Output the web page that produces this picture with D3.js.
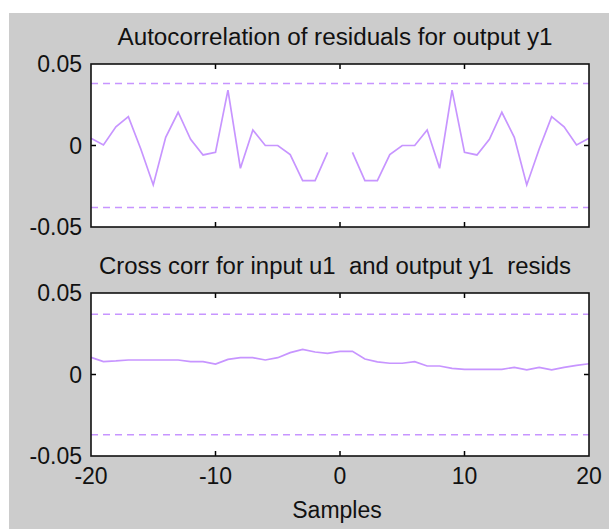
<!DOCTYPE html>
<html>
<head>
<meta charset="utf-8">
<script src="https://cdn.jsdelivr.net/npm/d3@7"></script>
<style>
  html, body { margin: 0; padding: 0; background: #ffffff; }
  svg { display: block; }
  text { font-family: "Liberation Sans", Arial, sans-serif; fill: #111; }
</style>
</head>
<body>
<svg id="chart" width="609" height="529"></svg>
<script>
// Residual correlation test: lags from -20 to 20 samples
const lags = d3.range(-20, 21);

// Autocorrelation of residuals for y1 (lag 0 omitted)
const autoCorr = [
  0.0044, 0.0003, 0.0115, 0.0177, -0.0021, -0.0242, 0.0050, 0.0204, 0.0038, -0.0058,
  -0.0042, 0.0340, -0.0140, 0.0095, 0.0000, 0.0000, -0.0056, -0.0216, -0.0216, -0.0042,
  null,
  -0.0042, -0.0216, -0.0216, -0.0056, 0.0000, 0.0000, 0.0095, -0.0140, 0.0340, -0.0042,
  -0.0058, 0.0038, 0.0204, 0.0050, -0.0242, -0.0021, 0.0177, 0.0115, 0.0003, 0.0044
];
const autoConf = 0.038;

// Cross correlation between input u1 and output y1 residuals
const crossCorr = [
  0.0105, 0.0079, 0.0083, 0.0089, 0.0089, 0.0089, 0.0089, 0.0089, 0.0079, 0.0079,
  0.0064, 0.0093, 0.0103, 0.0103, 0.0089, 0.0103, 0.0134, 0.0154, 0.0138, 0.0130,
  0.0142,
  0.0142, 0.0095, 0.0077, 0.0069, 0.0069, 0.0079, 0.0052, 0.0052, 0.0038, 0.0032,
  0.0032, 0.0032, 0.0032, 0.0044, 0.0028, 0.0044, 0.0028, 0.0044, 0.0056, 0.0066
];
const crossConf = 0.037;

const xTicks = [-20, -10, 0, 10, 20];
const yTicks = [-0.05, 0, 0.05];
const yTickLabels = ["-0.05", "0", "0.05"];

const panels = [
  { title: "Autocorrelation of residuals for output y1", values: autoCorr, conf: autoConf, top: 64, titleW: 435, xLabels: false },
  { title: "Cross corr for input u1  and output y1  resids", values: crossCorr, conf: crossConf, top: 293, titleW: 472, xLabels: true }
];

const svg = d3.select("#chart");
const left = 91, right = 589, plotH = 163;
const lineColor = "#c795ff";
const fontSize = 23;

// figure background
svg.append("rect").attr("x", 9).attr("y", 13).attr("width", 600).attr("height", 516).attr("fill", "#cccccc");

const x = d3.scaleLinear().domain([-20, 20]).range([left, right]);

panels.forEach(p => {
  const y = d3.scaleLinear().domain([-0.05, 0.05]).range([p.top + plotH, p.top]);
  const g = svg.append("g");

  g.append("rect")
    .attr("x", left).attr("y", p.top)
    .attr("width", right - left).attr("height", plotH)
    .attr("fill", "#ffffff");

  // confidence bounds
  [p.conf, -p.conf].forEach(c => {
    g.append("line")
      .attr("x1", left).attr("x2", right)
      .attr("y1", y(c)).attr("y2", y(c))
      .attr("stroke", lineColor).attr("stroke-width", 1.6)
      .attr("stroke-dasharray", "7,5");
  });

  const line = d3.line()
    .defined(d => d.v !== null)
    .x(d => x(d.lag))
    .y(d => y(d.v));
  g.append("path")
    .datum(lags.map((lag, i) => ({ lag, v: p.values[i] })))
    .attr("d", line)
    .attr("fill", "none")
    .attr("stroke", lineColor)
    .attr("stroke-width", 1.7);

  // inward ticks
  const tl = 5;
  const inner = xTicks.slice(1, -1);
  inner.forEach(t => {
    g.append("line").attr("x1", x(t)).attr("x2", x(t)).attr("y1", p.top).attr("y2", p.top + tl).attr("stroke", "#000").attr("stroke-width", 1.5);
    g.append("line").attr("x1", x(t)).attr("x2", x(t)).attr("y1", p.top + plotH).attr("y2", p.top + plotH - tl).attr("stroke", "#000").attr("stroke-width", 1.5);
  });
  g.append("line").attr("x1", left).attr("x2", left + tl).attr("y1", y(0)).attr("y2", y(0)).attr("stroke", "#000").attr("stroke-width", 1.5);
  g.append("line").attr("x1", right).attr("x2", right - tl).attr("y1", y(0)).attr("y2", y(0)).attr("stroke", "#000").attr("stroke-width", 1.5);

  // axes frame
  g.append("rect")
    .attr("x", left).attr("y", p.top)
    .attr("width", right - left).attr("height", plotH)
    .attr("fill", "none").attr("stroke", "#111").attr("stroke-width", 1.6);

  // y tick labels
  yTicks.forEach((t, i) => {
    g.append("text")
      .attr("x", left - 9).attr("y", y(t))
      .attr("text-anchor", "end").attr("dominant-baseline", "central")
      .attr("font-size", fontSize)
      .text(yTickLabels[i]);
  });

  // title
  g.append("text")
    .attr("x", (left + right) / 2 - 5).attr("y", p.top - 27)
    .attr("text-anchor", "middle").attr("dominant-baseline", "central")
    .attr("font-size", fontSize)
    .attr("textLength", p.titleW).attr("lengthAdjust", "spacingAndGlyphs")
    .style("white-space", "pre")
    .text(p.title);

  if (p.xLabels) {
    xTicks.forEach(t => {
      g.append("text")
        .attr("x", x(t)).attr("y", p.top + plotH + 20)
        .attr("text-anchor", "middle").attr("dominant-baseline", "central")
        .attr("font-size", fontSize)
        .text(t);
    });
    g.append("text")
      .attr("x", (left + right) / 2 - 3).attr("y", p.top + plotH + 54)
      .attr("text-anchor", "middle").attr("dominant-baseline", "central")
      .attr("font-size", fontSize)
      .text("Samples");
  }
});
</script>
</body>
</html>
